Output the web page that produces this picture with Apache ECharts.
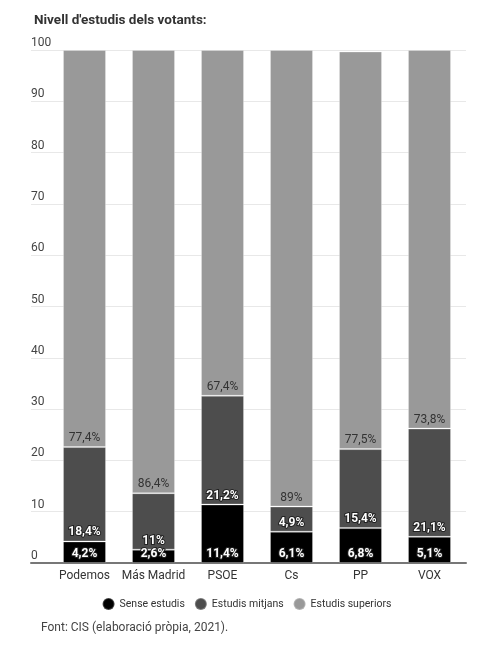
<!DOCTYPE html>
<html>
<head>
<meta charset="utf-8">
<script src="https://cdn.jsdelivr.net/npm/echarts@6/dist/echarts.min.js"></script>
<style>
html,body{margin:0;padding:0;background:#fff;}
#c{width:493px;height:661px;}
</style>
</head>
<body>
<div id="c"></div>
<script>
var categories = ['Podemos', 'Más Madrid', 'PSOE', 'Cs', 'PP', 'VOX'];
var senseEstudis = [4.2, 2.6, 11.4, 6.1, 6.8, 5.1];
var estudisMitjans = [18.4, 11, 21.2, 4.9, 15.4, 21.1];
var estudisSuperiors = [77.4, 86.4, 67.4, 89, 77.5, 73.8];
var seriesNames = ['Sense estudis', 'Estudis mitjans', 'Estudis superiors'];
var yTicks = [0, 10, 20, 30, 40, 50, 60, 70, 80, 90, 100];

var chart = echarts.init(document.getElementById('c'));
var FONT = 'Roboto';
function fmt(p){ return String(p.value).replace('.', ',') + '%'; }
var whiteLabel = {
  show: true, position: 'insideBottom', distance: 3, formatter: fmt,
  color: '#fff', fontWeight: 'bold', fontSize: 12, fontFamily: FONT,
  textBorderColor: '#222', textBorderWidth: 2
};
var darkLabel = {
  show: true, position: 'insideBottom', distance: 3, formatter: fmt,
  color: '#333', fontSize: 12, fontFamily: FONT
};
var option = {
  animation: false,
  textStyle: { fontFamily: FONT },
  title: {
    text: "Nivell d'estudis dels votants:",
    left: 29, top: 9,
    textStyle: { fontSize: 13.5, fontWeight: 'bold', color: '#333', fontFamily: FONT }
  },
  legend: {
    data: seriesNames,
    top: 592, left: 'center',
    icon: 'circle', itemWidth: 12, itemHeight: 12, itemGap: 9,
    textStyle: { fontSize: 10.5, color: '#333', fontFamily: FONT }
  },
  graphic: [{
    type: 'text', left: 41, top: 622,
    style: { text: 'Font: CIS (elaboració pròpia, 2021).', fontSize: 12, fill: '#444', fontFamily: FONT }
  }],
  grid: [
    { left: 31, right: 27, top: 50, bottom: 98 },
    { left: 50, right: 29, top: 50, bottom: 98 }
  ],
  xAxis: [
    { type: 'value', gridIndex: 0, min: 0, max: 1, show: true,
      axisLine: { show: true, lineStyle: { color: '#777', width: 2 } },
      axisTick: { show: false }, axisLabel: { show: false }, splitLine: { show: false } },
    { type: 'category', gridIndex: 1, data: categories,
      axisLine: { show: false }, axisTick: { show: false },
      axisLabel: { interval: 0, color: '#333', fontSize: 12, margin: 7, fontFamily: FONT } }
  ],
  yAxis: [
    { type: 'value', gridIndex: 0, min: 0, max: 100, interval: 10,
      axisLine: { show: false }, axisTick: { show: false },
      axisLabel: { inside: true, margin: 0, verticalAlign: 'bottom', align: 'left',
        padding: [0, 0, 1, 0], color: '#444', fontSize: 12, fontFamily: FONT },
      splitLine: { lineStyle: { color: '#e8e8e8', width: 1 } } },
    { type: 'value', gridIndex: 1, min: 0, max: 100, interval: 10, show: false,
      splitLine: { show: false } }
  ],
  series: [
    { name: seriesNames[0], type: 'bar', stack: 't', xAxisIndex: 1, yAxisIndex: 1,
      data: senseEstudis, barWidth: 43,
      itemStyle: { color: '#000', borderColor: 'rgba(255,255,255,0.25)', borderWidth: 1 },
      label: whiteLabel },
    { name: seriesNames[1], type: 'bar', stack: 't', xAxisIndex: 1, yAxisIndex: 1,
      data: estudisMitjans, barWidth: 43,
      itemStyle: { color: '#4d4d4d', borderColor: 'rgba(255,255,255,0.25)', borderWidth: 1 },
      label: whiteLabel },
    { name: seriesNames[2], type: 'bar', stack: 't', xAxisIndex: 1, yAxisIndex: 1,
      data: estudisSuperiors, barWidth: 43,
      itemStyle: { color: '#999999', borderColor: 'rgba(255,255,255,0.25)', borderWidth: 1 },
      label: darkLabel }
  ]
};
chart.setOption(option);
</script>
</body>
</html>
